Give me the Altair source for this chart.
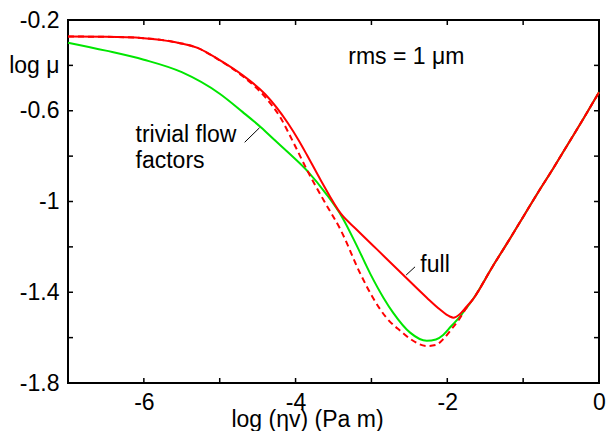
import altair as alt
import pandas as pd

# ---- data ----
full_x = [-7.0, -6.5, -6.0, -5.6, -5.3, -5.0, -4.7, -4.4, -4.1, -3.96, -3.85, -3.67, -3.4, -3.2,
          -2.93, -2.58, -2.27, -2.1, -1.967, -1.92, -1.836, -1.75, -1.662, -1.4, -1.2, -1.0,
          -0.8, -0.6, -0.4, -0.2, 0.0]
full_y = [-0.273, -0.274, -0.280, -0.297, -0.322, -0.377, -0.443, -0.527, -0.655, -0.73, -0.795,
          -0.905, -1.055, -1.122, -1.21, -1.324, -1.424, -1.475, -1.507, -1.512, -1.497, -1.465,
          -1.431, -1.285, -1.178, -1.068, -0.958, -0.852, -0.742, -0.632, -0.518]

dash_x = [-7.0, -6.5, -6.0, -5.6, -5.3, -5.0, -4.7, -4.4, -4.2, -4.03, -3.84, -3.62, -3.406,
          -3.144, -2.97, -2.796, -2.6, -2.49, -2.27, -2.15, -2.054, -1.95, -1.836, -1.75,
          -1.662, -1.4, -1.2, -1.0, -0.8, -0.6, -0.4, -0.2, 0.0]
dash_y = [-0.273, -0.274, -0.280, -0.297, -0.322, -0.378, -0.447, -0.54, -0.63, -0.739, -0.867,
          -1.0, -1.125, -1.32, -1.43, -1.515, -1.575, -1.605, -1.637, -1.632, -1.607, -1.565,
          -1.515, -1.47, -1.431, -1.285, -1.178, -1.068, -0.958, -0.852, -0.742, -0.632, -0.518]

triv_x = [-7.0, -6.5, -6.0, -5.5, -5.0, -4.7, -4.45, -4.28, -4.1, -3.84, -3.6, -3.384, -3.2,
          -3.013, -2.84, -2.71, -2.49, -2.27, -2.15, -2.054, -1.95, -1.836, -1.75, -1.662, -1.4,
          -1.2, -1.0, -0.8, -0.6, -0.4, -0.2, 0.0]
triv_y = [-0.30, -0.335, -0.375, -0.43, -0.525, -0.605, -0.675, -0.728, -0.783, -0.867, -0.965,
          -1.07, -1.19, -1.32, -1.425, -1.492, -1.578, -1.614, -1.608, -1.588, -1.55, -1.509,
          -1.47, -1.431, -1.285, -1.178, -1.068, -0.958, -0.852, -0.742, -0.632, -0.518]

x_ticks = [-7, -6, -5, -4, -3, -2, -1, 0]
y_ticks = [-1.8, -1.6, -1.4, -1.2, -1.0, -0.8, -0.6, -0.4, -0.2]

notes_text = ["rms = 1 μm", "trivial flow", "factors", "full"]
notes_x = [-2.54, -6.11, -6.11, -2.355]
notes_y = [-0.363, -0.709, -0.82, -1.281]
notes_align = ["center", "left", "left", "left"]

leader_x = [-4.671, -2.542]
leader_y = [-0.739, -1.324]
leader_x2 = [-4.475, -2.425]
leader_y2 = [-0.675, -1.288]

# ---- chart ----
W, H = 531, 363
FONT = "Liberation Sans"
FS = 23
RED = "#ff0000"
GREEN = "#00e600"
TICK = 5

xscale = alt.Scale(domain=[-7, 0], nice=False, zero=False)
yscale = alt.Scale(domain=[-1.8, -0.2], nice=False, zero=False)

full_df = pd.DataFrame({"x": full_x, "y": full_y})
dash_df = pd.DataFrame({"x": dash_x, "y": dash_y})
triv_df = pd.DataFrame({"x": triv_x, "y": triv_y})
notes_df = pd.DataFrame({"x": notes_x, "y": notes_y, "t": notes_text, "a": notes_align})
lead_df = pd.DataFrame({"x": leader_x, "y": leader_y, "x2": leader_x2, "y2": leader_y2})
xt_df = pd.DataFrame({"v": x_ticks})
yt_df = pd.DataFrame({"v": y_ticks})

x_bottom = alt.Axis(
    orient="bottom", values=x_ticks, ticks=False, domain=False, labelPadding=8,
    labelFlush=False,
    labelExpr="datum.value % 2 == 0 ? '' + datum.value : ''",
    title="log (ηv) (Pa m)", titleX=239, titleY=43, titleBaseline="alphabetic",
    titleAlign="center", titleFont=FONT, titleFontSize=FS, titleFontWeight="normal",
    titleColor="black",
)
y_left = alt.Axis(
    orient="left", values=y_ticks, ticks=False, domain=False, labelPadding=9,
    labelFlush=False,
    labelExpr="abs(datum.value + 0.4) < 0.01 ? 'log μ' : "
              "(abs(round(datum.value * 10)) % 4 == 2 ? '' + datum.value : '')",
    title=None,
)

green = alt.Chart(triv_df).mark_line(color=GREEN, strokeWidth=2, interpolate="monotone").encode(
    x=alt.X("x:Q", scale=xscale, axis=x_bottom),
    y=alt.Y("y:Q", scale=yscale, axis=y_left),
    order="x:Q",
)
dashed = alt.Chart(dash_df).mark_line(
    color=RED, strokeWidth=2, strokeDash=[6, 4], interpolate="monotone"
).encode(
    x=alt.X("x:Q", scale=xscale, axis=None),
    y=alt.Y("y:Q", scale=yscale, axis=None),
    order="x:Q",
)
solid = alt.Chart(full_df).mark_line(color=RED, strokeWidth=2, interpolate="monotone").encode(
    x=alt.X("x:Q", scale=xscale, axis=None),
    y=alt.Y("y:Q", scale=yscale, axis=None),
    order="x:Q",
)
leaders = alt.Chart(lead_df).mark_rule(color="black", strokeWidth=1).encode(
    x=alt.X("x:Q", scale=xscale, axis=None),
    y=alt.Y("y:Q", scale=yscale, axis=None),
    x2="x2:Q", y2="y2:Q",
)
notes_center = alt.Chart(notes_df[notes_df.a == "center"]).mark_text(
    font=FONT, fontSize=FS, color="black", align="center", baseline="middle"
).encode(
    x=alt.X("x:Q", scale=xscale, axis=None),
    y=alt.Y("y:Q", scale=yscale, axis=None),
    text="t:N",
)
notes_left = alt.Chart(notes_df[notes_df.a == "left"]).mark_text(
    font=FONT, fontSize=FS, color="black", align="left", baseline="middle"
).encode(
    x=alt.X("x:Q", scale=xscale, axis=None),
    y=alt.Y("y:Q", scale=yscale, axis=None),
    text="t:N",
)

# inward ticks on all four sides
tick_style = dict(color="black", thickness=1.5, size=TICK, opacity=1)
ticks_bottom = alt.Chart(xt_df).mark_tick(orient="vertical", **tick_style).encode(
    x=alt.X("v:Q", scale=xscale, axis=None), y=alt.value(H - TICK / 2))
ticks_top = alt.Chart(xt_df).mark_tick(orient="vertical", **tick_style).encode(
    x=alt.X("v:Q", scale=xscale, axis=None), y=alt.value(TICK / 2))
ticks_left = alt.Chart(yt_df).mark_tick(orient="horizontal", **tick_style).encode(
    y=alt.Y("v:Q", scale=yscale, axis=None), x=alt.value(TICK / 2))
ticks_right = alt.Chart(yt_df).mark_tick(orient="horizontal", **tick_style).encode(
    y=alt.Y("v:Q", scale=yscale, axis=None), x=alt.value(W - TICK / 2))

chart = (
    alt.layer(green, dashed, solid, leaders, notes_center, notes_left,
              ticks_bottom, ticks_top, ticks_left, ticks_right)
    .resolve_axis(x="independent", y="independent")
    .properties(
        width=W, height=H,
        autosize=alt.AutoSizeParams(type="none"),
        padding={"left": 60, "top": 12, "right": 7, "bottom": 48},
        background="white",
    )
    .configure_axis(
        grid=False, labelFont=FONT, labelFontSize=FS, labelColor="black",
    )
    .configure_view(stroke="black", strokeWidth=2)
)

chart.save("out.html", embed_options={"renderer": "svg", "actions": False})
